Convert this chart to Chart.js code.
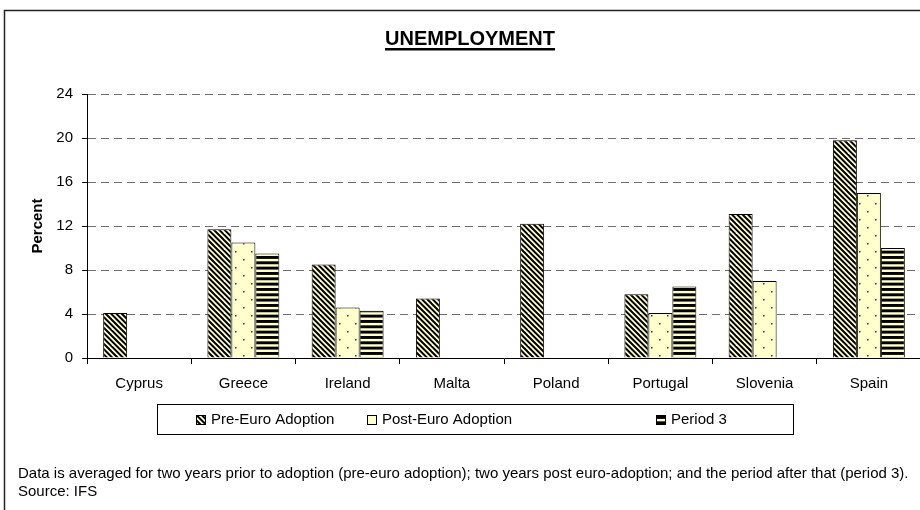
<!DOCTYPE html>
<html>
<head>
<meta charset="utf-8">
<title>Unemployment</title>
<script src="https://cdn.jsdelivr.net/npm/chart.js@4"></script>
<style>
  html, body { margin: 0; padding: 0; background: #fff; overflow: hidden; }
  #wrap { width: 920px; height: 510px; overflow: hidden; }
  canvas { display: block; }
</style>
</head>
<body>
<div id="wrap"><canvas id="unemploymentChart" width="930" height="510"></canvas></div>
<script>
// unemployment rate (%) around euro adoption
const countries = ['Cyprus', 'Greece', 'Ireland', 'Malta', 'Poland', 'Portugal', 'Slovenia', 'Spain'];
const preEuro   = [4.1, 11.7, 8.5, 5.4, 12.2, 5.8, 13.1, 19.8];
const postEuro  = [null, 10.5, 4.6, null, null, 4.1, 7.0, 15.0];
const period3   = [null, 9.5, 4.3, null, null, 6.5, null, 10.0];
const seriesNames = ['Pre-Euro Adoption', 'Post-Euro Adoption', 'Period 3'];
const yTicks = [0, 4, 8, 12, 16, 20, 24];
const chartTitle = 'UNEMPLOYMENT';
const noteLines = [
    'Data is averaged for two years prior to adoption (pre-euro adoption); two years post euro-adoption; and the period after that (period 3).',
    'Source: IFS'
];

const FONT = '"Liberation Sans", Arial, Helvetica, sans-serif';
const cream = '#ffffcc';

const canvas = document.getElementById('unemploymentChart');
const ctx = canvas.getContext('2d');

// fill patterns for the three series
function makePattern(kind) {
    const t = document.createElement('canvas');
    t.width = 16; t.height = 16;
    const g = t.getContext('2d');
    g.fillStyle = cream;
    g.fillRect(0, 0, 16, 16);
    g.fillStyle = '#000';
    g.strokeStyle = '#000';
    const step = 16 / 3;
    if (kind === 'diag') {
        g.lineWidth = 2;
        for (let k = -16 - step; k <= 16 + step; k += step) {
            g.beginPath();
            g.moveTo(k - 2, -2);
            g.lineTo(k + 18, 18);
            g.stroke();
        }
    } else if (kind === 'stripes') {
        for (let y = 0; y < 16; y += step) g.fillRect(0, y, 16, 2.9);
    } else if (kind === 'dots') {
        g.fillStyle = '#333';
        g.fillRect(3, 3, 1.5, 1.5);
        g.fillRect(11, 11, 1.5, 1.5);
    }
    return ctx.createPattern(t, 'repeat');
}

const fills = [makePattern('diag'), makePattern('dots'), makePattern('stripes')];

// title, legend box, footnote and outer frame
const framePlugin = {
    id: 'frame',
    beforeDraw(chart) {
        const c = chart.ctx;
        c.save();
        c.fillStyle = '#fff';
        c.fillRect(0, 0, chart.width, chart.height);
        c.restore();
    },
    afterDraw(chart) {
        const c = chart.ctx;
        c.save();
        c.strokeStyle = '#222';
        c.lineWidth = 1.5;
        c.strokeRect(4.5, 10.5, 1000, 600);

        // underlined title
        c.fillStyle = '#000';
        c.font = 'bold 20px ' + FONT;
        c.textAlign = 'center';
        c.textBaseline = 'alphabetic';
        c.fillText(chartTitle, 470, 45);
        const tw = c.measureText(chartTitle).width;
        c.fillRect(470 - tw / 2, 48, tw, 2.5);

        // legend
        c.lineWidth = 1;
        c.strokeStyle = '#000';
        c.strokeRect(157.5, 404.5, 636, 30);
        const itemX = [201, 372, 661];
        c.font = '15px ' + FONT;
        c.textAlign = 'left';
        c.textBaseline = 'middle';
        chart.data.datasets.forEach((ds, i) => {
            const x = itemX[i];
            c.fillStyle = i === 1 ? cream : ds.backgroundColor;
            c.fillRect(x - 4.5, 415.5, 9, 9);
            c.strokeRect(x - 4.5, 415.5, 9, 9);
            c.fillStyle = '#000';
            c.fillText(ds.label, x + 10, 420);
        });

        // footnote
        c.font = '15px ' + FONT;
        c.textBaseline = 'alphabetic';
        c.fillText(noteLines[0], 18, 478);
        c.fillText(noteLines[1], 18, 496);
        c.restore();
    }
};

new Chart(ctx, {
    type: 'bar',
    data: {
        labels: countries,
        datasets: [
            { label: seriesNames[0], data: preEuro,  backgroundColor: fills[0] },
            { label: seriesNames[1], data: postEuro, backgroundColor: fills[1] },
            { label: seriesNames[2], data: period3,  backgroundColor: fills[2] }
        ]
    },
    options: {
        responsive: false,
        animation: false,
        events: [],
        datasets: {
            bar: {
                borderColor: '#000',
                borderWidth: 1,
                categoryPercentage: 0.69,
                barPercentage: 1.0
            }
        },
        layout: { padding: { left: 0, right: 9, top: 94, bottom: 112 } },
        plugins: {
            legend: { display: false },
            title: { display: false },
            tooltip: { enabled: false }
        },
        scales: {
            x: {
                afterFit: s => { s.height = 40; },
                grid: {
                    offset: true,
                    drawOnChartArea: false,
                    drawTicks: true,
                    tickLength: 6,
                    tickColor: '#000',
                    color: '#000'
                },
                border: { display: true, color: '#000', width: 1 },
                ticks: {
                    autoSkip: false,
                    maxRotation: 0,
                    padding: 11,
                    color: '#000',
                    font: { family: FONT, size: 15 }
                }
            },
            y: {
                min: 0,
                max: 24,
                afterFit: s => { s.width = 87; },
                afterBuildTicks: s => { s.ticks = yTicks.map(v => ({ value: v })); },
                grid: {
                    color: c => (c.tick && c.tick.value === 0) ? 'rgba(0,0,0,0)' : '#6e6e6e',
                    lineWidth: 1,
                    tickLength: 5,
                    tickColor: '#000',
                    tickBorderDash: []
                },
                border: { display: true, color: '#000', width: 1, dash: [8, 5] },
                ticks: {
                    padding: 9,
                    color: '#000',
                    font: { family: FONT, size: 15 }
                },
                title: {
                    display: true,
                    text: 'Percent',
                    color: '#000',
                    font: { family: FONT, size: 15, weight: 'bold' },
                    padding: { top: 29, bottom: 0 }
                }
            }
        }
    },
    plugins: [framePlugin]
});
</script>
</body>
</html>
